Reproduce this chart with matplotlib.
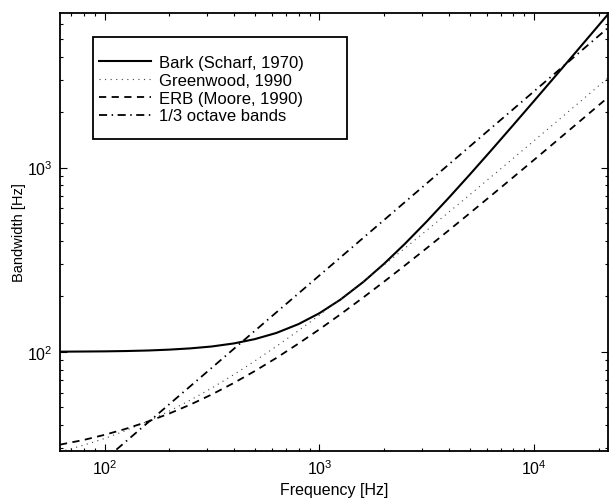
import matplotlib
matplotlib.use("Agg")
import matplotlib.pyplot as plt
from matplotlib.patches import Rectangle
from matplotlib.ticker import LogLocator, NullFormatter, LogFormatterSciNotation

plt.rcParams['font.family'] = ['Liberation Sans', 'DejaVu Sans']

# Frequencies (Hz) at which the curves are read
freq = [62, 80, 100, 125, 160, 200, 250, 315, 400, 500, 630, 800, 1000, 1250,
        1600, 2000, 2500, 3150, 4000, 5000, 6300, 8000, 10000, 12500, 16000,
        20000, 22050]

# Bandwidths (Hz)
bark = [100.3, 100.5, 100.7, 101.1, 101.8, 102.9, 104.5, 107.0, 111.2, 117.3,
        126.7, 141.6, 162.2, 191.9, 239.5, 300.8, 386.0, 508.5, 685.5, 914,
        1239, 1706, 2306, 3122, 4373, 5938, 6791]
greenwood = [28.7, 31.2, 33.9, 37.4, 42.2, 47.7, 54.7, 63.6, 75.4, 89.2,
             107.1, 130.6, 158.3, 192.8, 241.2, 296.4, 365.5, 455.3, 572.7,
             710.9, 890.5, 1125, 1402, 1747, 2231, 2783, 3066]
erb = [31.4, 33.3, 35.5, 38.2, 42.0, 46.3, 51.7, 58.7, 67.9, 78.7, 92.7,
       111.1, 132.6, 159.6, 197.4, 240.6, 294.6, 364.7, 456.5, 564.4, 704.7,
       888.2, 1104, 1374, 1752, 2184, 2405]
third_octave = [16.1, 20.8, 26.0, 32.5, 41.6, 52.0, 65.0, 81.9, 104.0, 130.0,
                163.8, 207.9, 259.9, 324.9, 415.9, 519.8, 649.8, 818.7, 1040,
                1300, 1638, 2079, 2599, 3249, 4159, 5198, 5731]

labels = ['Bark (Scharf, 1970)', 'Greenwood, 1990', 'ERB (Moore, 1990)',
          '1/3 octave bands']
xlim = (62, 22050)
ylim = (29, 6900)

W, H = 609, 502
fig = plt.figure(figsize=(W/100, H/100), dpi=100)
ax = fig.add_axes([60/W, 1-452/H, 548/W, 438/H])

ax.plot(freq, bark, color='black', lw=1.5, linestyle='-', label=labels[0])
ax.plot(freq, greenwood, color='#444444', lw=0.8, linestyle=(0, (1, 4)),
        label=labels[1])
ax.plot(freq, erb, color='black', lw=1.3, linestyle=(0, (4, 3)),
        label=labels[2])
ax.plot(freq, third_octave, color='black', lw=1.3,
        linestyle=(0, (4.5, 2.5, 0.8, 2.5)), label=labels[3])

ax.set_xscale('log')
ax.set_yscale('log')
ax.set_xlim(*xlim)
ax.set_ylim(*ylim)

ax.xaxis.set_major_locator(LogLocator(base=10, numticks=10))
ax.yaxis.set_major_locator(LogLocator(base=10, numticks=10))
ax.xaxis.set_minor_locator(LogLocator(base=10, subs=range(2, 10), numticks=20))
ax.yaxis.set_minor_locator(LogLocator(base=10, subs=range(2, 10), numticks=20))
ax.xaxis.set_minor_formatter(NullFormatter())
ax.yaxis.set_minor_formatter(NullFormatter())
ax.xaxis.set_major_formatter(LogFormatterSciNotation())
ax.yaxis.set_major_formatter(LogFormatterSciNotation())

ax.tick_params(which='both', direction='in', top=True, right=True,
               color='black', width=0.8)
ax.tick_params(which='major', length=5, labelsize=11.5, pad=5)
ax.tick_params(which='minor', length=2.5)
for s in ax.spines.values():
    s.set_linewidth(1.3)

ax.set_xlabel('Frequency [Hz]', fontsize=11.5, labelpad=4)
ax.set_ylabel('Bandwidth [Hz]', fontsize=10.5, labelpad=1)

# legend frame drawn as a box (wider than the entries, as in the original)
box = Rectangle((93/W, 1-140/H), (347-93)/W, (140-38)/H,
                transform=fig.transFigure, facecolor='white',
                edgecolor='black', lw=1.3, zorder=5, clip_on=False)
ax.add_patch(box)
leg = ax.legend(loc='upper left', bbox_to_anchor=(93/W, 1-50/H),
                bbox_transform=fig.transFigure, borderaxespad=0,
                fontsize=12, frameon=False, handlelength=3.1,
                handletextpad=0.5, labelspacing=0.17, borderpad=0.35)
leg.set_zorder(6)

fig.savefig('out.png', dpi=100)
